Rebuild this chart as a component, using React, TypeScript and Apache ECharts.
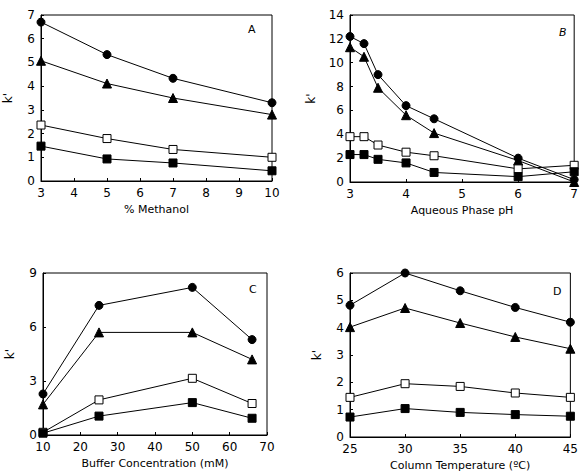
import React, { useEffect, useRef } from "react";
import * as echarts from "echarts";

const methanolX = [3, 5, 7, 10];
const aCircle = [6.7, 5.33, 4.33, 3.3];
const aTriangle = [5.07, 4.11, 3.5, 2.8];
const aOpenSq = [2.36, 1.79, 1.33, 1.0];
const aFilledSq = [1.47, 0.93, 0.76, 0.43];

const phX = [3, 3.25, 3.5, 4, 4.5, 6, 7];
const bCircle = [12.2, 11.6, 9.0, 6.4, 5.3, 2.0, 0.2];
const bTriangle = [11.3, 10.5, 7.9, 5.6, 4.1, 1.8, 0.0];
const bOpenSq = [3.8, 3.8, 3.1, 2.5, 2.2, 1.1, 1.4];
const bFilledSq = [2.3, 2.3, 1.9, 1.6, 0.8, 0.45, 0.86];

const bufferX = [10, 25, 50, 66];
const cCircle = [2.28, 7.2, 8.2, 5.3];
const cTriangle = [1.7, 5.7, 5.7, 4.2];
const cOpenSq = [0.15, 1.95, 3.15, 1.75];
const cFilledSq = [0.1, 1.05, 1.8, 0.93];

const tempX = [25, 30, 35, 40, 45];
const dCircle = [4.82, 6.0, 5.35, 4.74, 4.2];
const dTriangle = [4.02, 4.72, 4.17, 3.66, 3.23];
const dOpenSq = [1.45, 1.95, 1.85, 1.61, 1.45];
const dFilledSq = [0.73, 1.04, 0.9, 0.82, 0.76];

const panelLetters = ["A", "B", "C", "D"];
const xNames = ["% Methanol", "Aqueous Phase pH", "Buffer Concentration (mM)", "Column Temperature (ºC)"];
const yName = "k'";

const FONT = "DejaVu Sans";

export default function App() {
  const ref = useRef<HTMLDivElement>(null);
  useEffect(() => {
    if (!ref.current) return;
    const chart = echarts.init(ref.current, undefined, { renderer: "svg" });

    const grids = [
      { left: 41, top: 15, width: 231, height: 166 },
      { left: 350, top: 15, width: 227, height: 167 },
      { left: 43, top: 273, width: 224, height: 162 },
      { left: 350, top: 273, width: 223, height: 164 },
    ];
    const xRanges = [
      { min: 3, max: 10, interval: 1 },
      { min: 3, max: 7, interval: 1 },
      { min: 10, max: 70, interval: 10 },
      { min: 25, max: 45, interval: 5 },
    ];
    const yRanges = [
      { min: 0, max: 7, interval: 1 },
      { min: 0, max: 14, interval: 2 },
      { min: 0, max: 9, interval: 3 },
      { min: 0, max: 6, interval: 1 },
    ];
    const xs = [methanolX, phX, bufferX, tempX];
    const sets = [
      [aCircle, aTriangle, aOpenSq, aFilledSq],
      [bCircle, bTriangle, bOpenSq, bFilledSq],
      [cCircle, cTriangle, cOpenSq, cFilledSq],
      [dCircle, dTriangle, dOpenSq, dFilledSq],
    ];
    const symbols = [
      { symbol: "circle", size: 8, fill: "#000" },
      { symbol: "triangle", size: 9, fill: "#000" },
      { symbol: "rect", size: 8, fill: "#fff" },
      { symbol: "rect", size: 8, fill: "#000" },
    ];

    const series: any[] = [];
    sets.forEach((set, gi) => {
      set.forEach((vals, si) => {
        const s = symbols[si];
        series.push({
          type: "line",
          xAxisIndex: gi,
          yAxisIndex: gi,
          data: xs[gi].map((x, i) => [x, vals[i]]),
          symbol: s.symbol,
          symbolSize: s.size,
          showAllSymbol: true,
          lineStyle: { color: "#000", width: 1 },
          itemStyle: { color: s.fill, borderColor: "#000", borderWidth: 1 },
          z: 3 + si,
        });
      });
    });

    const axisLabelStyle = { color: "#000", fontFamily: FONT, fontSize: 12 };

    chart.setOption({
      animation: false,
      backgroundColor: "#fff",
      grid: grids.map((g) => ({ ...g, show: true, borderColor: "#000", borderWidth: 1, backgroundColor: "transparent" })),
      xAxis: xRanges.map((r, i) => ({
        type: "value",
        gridIndex: i,
        ...r,
        name: xNames[i],
        nameLocation: "middle",
        nameGap: 23,
        nameTextStyle: { color: "#000", fontFamily: FONT, fontSize: 11 },
        axisLine: { show: true, lineStyle: { color: "#000", width: 1 } },
        axisTick: { show: true, inside: true, length: 3, lineStyle: { color: "#000" } },
        axisLabel: { ...axisLabelStyle, margin: 6 },
        splitLine: { show: false },
      })),
      yAxis: yRanges.map((r, i) => ({
        type: "value",
        gridIndex: i,
        ...r,
        name: yName,
        nameLocation: "middle",
        nameRotate: 90,
        nameGap: i === 1 ? 33 : 27,
        nameTextStyle: { color: "#000", fontFamily: FONT, fontSize: 12 },
        axisLine: { show: true, lineStyle: { color: "#000", width: 1 } },
        axisTick: { show: true, inside: true, length: 3, lineStyle: { color: "#000" } },
        axisLabel: { ...axisLabelStyle, margin: 6 },
        splitLine: { show: false },
      })),
      graphic: [
        { type: "text", left: 248, top: 24, style: { text: panelLetters[0], fontFamily: FONT, fontSize: 11, fill: "#000" } },
        { type: "text", left: 559, top: 27, style: { text: panelLetters[1], fontFamily: FONT, fontSize: 11, fontStyle: "italic", fill: "#000" } },
        { type: "text", left: 249, top: 284, style: { text: panelLetters[2], fontFamily: FONT, fontSize: 11, fill: "#000" } },
        { type: "text", left: 553, top: 286, style: { text: panelLetters[3], fontFamily: FONT, fontSize: 11, fill: "#000" } },
      ],
      series,
    });
    return () => chart.dispose();
  }, []);
  return <div ref={ref} style={{ position: "absolute", left: 0, top: 0, width: 581, height: 476 }} />;
}
